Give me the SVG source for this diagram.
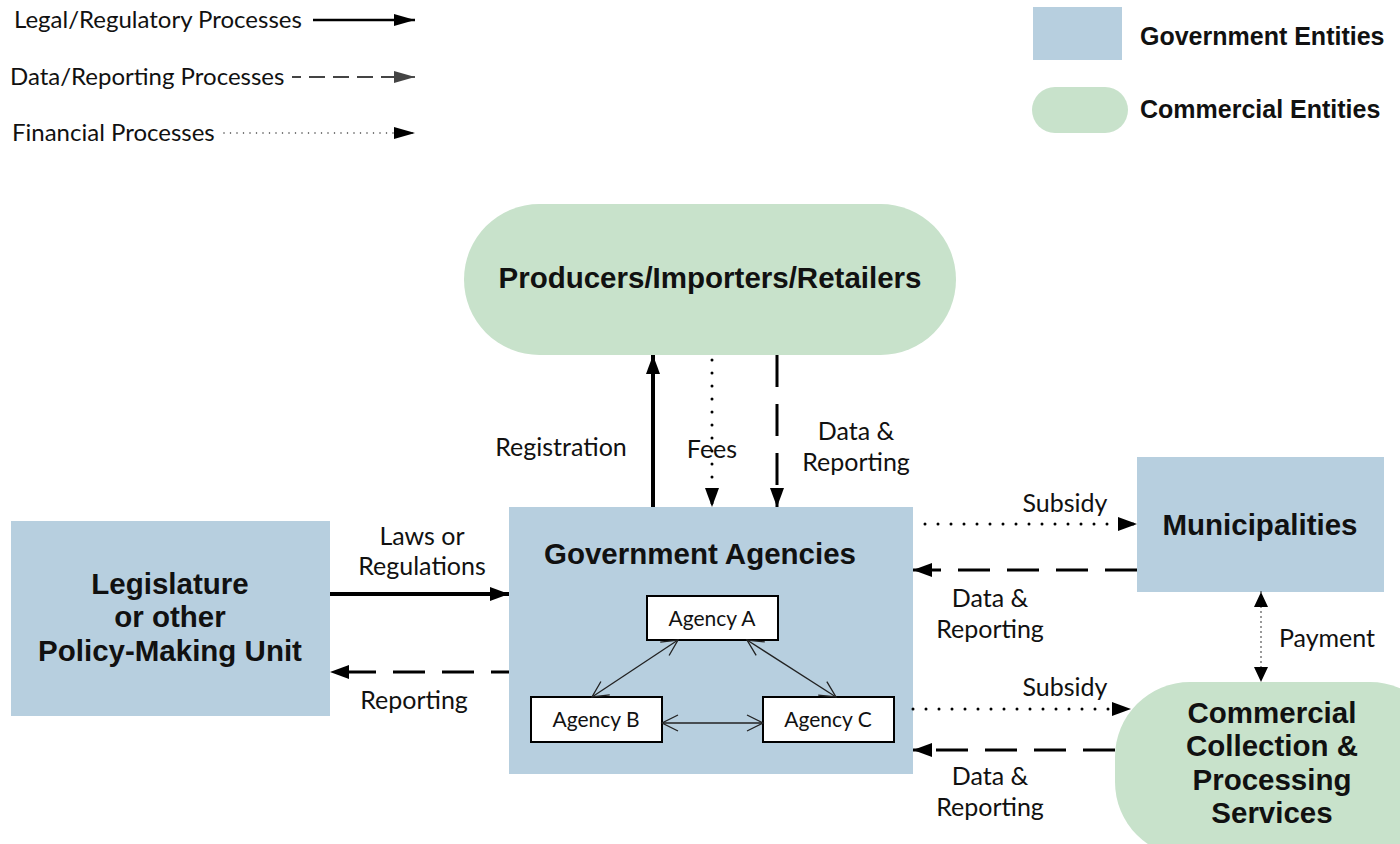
<svg xmlns="http://www.w3.org/2000/svg" width="1400" height="844" viewBox="0 0 1400 844">
<style>
.gov{fill:#b7cfdf}
.com{fill:#c8e2cb}
.node{font-family:"Liberation Sans",Arial,sans-serif;font-weight:bold;font-size:29.5px;fill:#111;text-anchor:middle}
.leg{font-family:"Liberation Sans",Arial,sans-serif;font-weight:bold;font-size:25px;fill:#111}
.lbl{font-family:Lato,"Liberation Sans",sans-serif;font-size:25px;fill:#111;text-anchor:middle}
.ltxt{font-family:Lato,"Liberation Sans",sans-serif;font-size:24px;fill:#111}
.solid{stroke:#000;stroke-width:4;fill:none}
.dash{stroke:#000;stroke-width:3;fill:none;stroke-dasharray:32 17}
.dot{stroke:#000;stroke-width:3;fill:none;stroke-dasharray:0 13;stroke-linecap:round}
.ag{fill:#fff;stroke:#000;stroke-width:2}
.agt{font-family:Lato,"Liberation Sans",sans-serif;font-size:21px;fill:#111;text-anchor:middle}
.thin{stroke:#222;stroke-width:1.3;fill:none}
</style>
<defs>
<marker id="ah" markerUnits="userSpaceOnUse" markerWidth="20" markerHeight="16" refX="19" refY="8" orient="auto-start-reverse" viewBox="0 0 20 16">
<path d="M0,1 L19,8 L0,15 z" fill="#000"/>
</marker>
<marker id="ahs" markerUnits="userSpaceOnUse" markerWidth="22" markerHeight="14" refX="21" refY="7" orient="auto-start-reverse" viewBox="0 0 22 14">
<path d="M0,1 L21,7 L0,13 z" fill="#000"/>
</marker>
<marker id="ahg" markerUnits="userSpaceOnUse" markerWidth="22" markerHeight="14" refX="21" refY="7" orient="auto-start-reverse" viewBox="0 0 22 14">
<path d="M0,1 L21,7 L0,13 z" fill="#444"/>
</marker>
<marker id="ahp" markerUnits="userSpaceOnUse" markerWidth="16" markerHeight="16" refX="15" refY="8" orient="auto-start-reverse" viewBox="0 0 16 16">
<path d="M0,1 L15,8 L0,15 z" fill="#000"/>
</marker>
<marker id="open" markerUnits="userSpaceOnUse" markerWidth="20" markerHeight="20" refX="18" refY="10" orient="auto-start-reverse" viewBox="0 0 20 20">
<path d="M2,2 L18,10 L2,18" fill="none" stroke="#222" stroke-width="1.3"/>
</marker>
</defs>

<g id="legend">
<text class="ltxt" x="14" y="28">Legal/Regulatory Processes</text>
<line x1="313" y1="20" x2="415" y2="20" stroke="#000" stroke-width="2.5" marker-end="url(#ahs)"/>
<text class="ltxt" x="10" y="85">Data/Reporting Processes</text>
<line x1="292" y1="77" x2="400" y2="77" stroke="#444" stroke-width="1.8" stroke-dasharray="16 8" stroke-dashoffset="7"/>
<line x1="395" y1="77" x2="415" y2="77" stroke="#444" stroke-width="1.8" marker-end="url(#ahg)"/>
<text class="ltxt" x="12" y="141">Financial Processes</text>
<line x1="224" y1="133" x2="415" y2="133" stroke="#333" stroke-width="1.5" stroke-dasharray="0 6.5" stroke-linecap="round" marker-end="url(#ahs)"/>
<rect class="gov" x="1033" y="7" width="89" height="53"/>
<text class="leg" x="1140" y="45">Government Entities</text>
<rect class="com" x="1032" y="87" width="96" height="46" rx="23"/>
<text class="leg" x="1140" y="118">Commercial Entities</text>
</g>

<g id="producers">
<rect class="com" x="464" y="204" width="492" height="151" rx="75.5"/>
<text class="node" x="710" y="288">Producers/Importers/Retailers</text>
</g>

<g id="legislature">
<rect class="gov" x="11" y="521" width="319" height="195"/>
<text class="node" x="170" y="594"><tspan x="170" y="594">Legislature</tspan><tspan x="170" y="627.3">or other</tspan><tspan x="170" y="660.6">Policy-Making Unit</tspan></text>
</g>

<g id="government-agencies">
<rect class="gov" x="509" y="507" width="404" height="267"/>
<text class="node" x="700" y="564">Government Agencies</text>
</g>

<g id="agency-a">
<rect class="ag" x="647" y="596" width="131" height="44"/>
<text class="agt" x="712" y="626">Agency A</text>
</g>
<g id="agency-b">
<rect class="ag" x="531" y="697" width="131" height="45"/>
<text class="agt" x="596" y="727">Agency B</text>
</g>
<g id="agency-c">
<rect class="ag" x="763" y="697" width="131" height="45"/>
<text class="agt" x="828" y="727">Agency C</text>
</g>

<g id="municipalities">
<rect class="gov" x="1137" y="457" width="247" height="135"/>
<text class="node" x="1260" y="535">Municipalities</text>
</g>

<g id="commercial-collection">
<rect class="com" x="1115" y="682" width="330" height="175" rx="75"/>
<text class="node" x="1272" y="723"><tspan x="1272" y="723">Commercial</tspan><tspan x="1272" y="756.3">Collection &amp;</tspan><tspan x="1272" y="789.6">Processing</tspan><tspan x="1272" y="822.9">Services</tspan></text>
</g>

<g id="connectors">
<line class="solid" x1="330" y1="594" x2="509" y2="594" marker-end="url(#ah)"/>
<line class="dash" x1="509" y1="672" x2="330" y2="672" stroke-dashoffset="14" marker-end="url(#ah)"/>
<line class="solid" x1="653" y1="507" x2="653" y2="355" marker-end="url(#ah)"/>
<line class="dot" x1="712" y1="360" x2="712" y2="507" marker-end="url(#ah)"/>
<line class="dash" x1="777" y1="355" x2="777" y2="507" marker-end="url(#ah)"/>
<line class="dot" x1="925" y1="524" x2="1137" y2="524" marker-end="url(#ah)"/>
<line class="dash" x1="1137" y1="570" x2="913" y2="570" marker-end="url(#ah)"/>
<line x1="1261" y1="592" x2="1261" y2="682" stroke="#000" stroke-width="1.5" stroke-dasharray="0 5" stroke-linecap="round" marker-start="url(#ahp)" marker-end="url(#ahp)"/>
<line class="dot" x1="913" y1="709" x2="1131" y2="709" marker-end="url(#ah)"/>
<line class="dash" x1="1115" y1="750" x2="913" y2="750" marker-end="url(#ah)"/>
<line class="thin" x1="678" y1="640" x2="592" y2="697" marker-start="url(#open)" marker-end="url(#open)"/>
<line class="thin" x1="747" y1="640" x2="836" y2="697" marker-start="url(#open)" marker-end="url(#open)"/>
<line class="thin" x1="662" y1="723" x2="763" y2="723" marker-start="url(#open)" marker-end="url(#open)"/>
</g>

<g id="labels">
<text class="lbl" x="422" y="545">Laws or</text>
<text class="lbl" x="422" y="575">Regulations</text>
<text class="lbl" x="414" y="709">Reporting</text>
<text class="lbl" x="561" y="456">Registration</text>
<text class="lbl" x="712" y="458">Fees</text>
<text class="lbl" x="856" y="440">Data &amp;</text>
<text class="lbl" x="856" y="471">Reporting</text>
<text class="lbl" x="1065" y="512">Subsidy</text>
<text class="lbl" x="990" y="607">Data &amp;</text>
<text class="lbl" x="990" y="638">Reporting</text>
<text class="lbl" x="1327" y="647">Payment</text>
<text class="lbl" x="1065" y="696">Subsidy</text>
<text class="lbl" x="990" y="785">Data &amp;</text>
<text class="lbl" x="990" y="816">Reporting</text>
</g>
</svg>
